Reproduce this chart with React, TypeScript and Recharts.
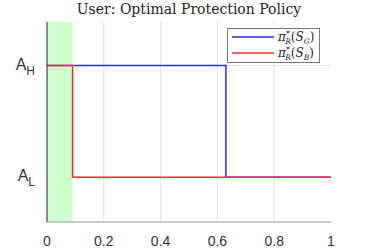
import { LineChart, Line, XAxis, YAxis, CartesianGrid, ReferenceArea } from 'recharts';

document.body.style.margin = '0';

// policy levels: 1 = A_L, 2 = A_H
const goodX = [0, 0.63, 1];
const goodLevel = [2, 1, 1];
const badX = [0, 0.09, 1];
const badLevel = [2, 1, 1];
const xTicks = [0, 0.2, 0.4, 0.6, 0.8, 1];
const yTicks = [1, 2];
const yLabels = ['L', 'H'];
const bandEnd = 0.09;

const goodData = goodX.map((x, i) => ({ x, v: goodLevel[i] }));
const badData = badX.map((x, i) => ({ x, v: badLevel[i] }));

const YTick = ({ x, y, payload }: any) => {
  const sub = yLabels[yTicks.indexOf(payload.value)];
  return (
    <text x={x - 4} y={y + 4} textAnchor="end" fill="#333" fontFamily="Liberation Sans, Arial, sans-serif" fontSize={16}>
      A<tspan dy={5} fontSize={12}>{sub}</tspan>
    </text>
  );
};

const PolicyLabel = ({ x, y, state }: { x: number; y: number; state: string }) => (
  <text x={x} y={y} fontFamily="DejaVu Serif, serif" fontSize={12} fill="#222">
    <tspan fontStyle="italic">π</tspan>
    <tspan dy={-5} fontSize={7.5}>*</tspan>
    <tspan dy={8} dx={-4.5} fontSize={7.5} fontStyle="italic">R</tspan>
    <tspan dy={-3}>(</tspan>
    <tspan fontStyle="italic">S</tspan>
    <tspan dy={3} fontSize={7.5} fontStyle="italic">{state}</tspan>
    <tspan dy={-3}>)</tspan>
  </text>
);

const Legend = () => (
  <g>
    <rect x={227.5} y={28.5} width={92} height={34} fill="#fff" stroke="#777" />
    <line x1={232} x2={274} y1={37} y2={37} stroke="#2a2aff" strokeWidth={1.5} />
    <line x1={232} x2={274} y1={53} y2={53} stroke="#ff2a2a" strokeWidth={1.5} />
    <PolicyLabel x={278} y={41} state="G" />
    <PolicyLabel x={278} y={57} state="B" />
  </g>
);

export default function App() {
  return (
    <div style={{ position: 'relative', width: 366, height: 249, background: '#fff' }}>
      <div
        style={{
          position: 'absolute',
          top: 1,
          left: 47,
          width: 284,
          textAlign: 'center',
          fontFamily: 'DejaVu Serif, serif',
          fontSize: 14,
          color: '#222',
        }}
      >
        User: Optimal Protection Policy
      </div>
      <LineChart width={366} height={249} margin={{ top: 22, right: 35, bottom: 0, left: 0 }}>
        <CartesianGrid stroke="#e2e2e2" verticalValues={xTicks.slice(1, -1)} horizontalValues={yTicks} />
        <ReferenceArea x1={0} x2={bandEnd} fill="#ccffcc" fillOpacity={1} stroke="none" ifOverflow="visible" />
        <XAxis
          dataKey="x"
          type="number"
          domain={[0, 1]}
          ticks={xTicks}
          height={27}
          allowDuplicatedCategory={false}
          axisLine={{ stroke: '#999' }}
          tickLine={false}
          tick={{ fill: '#333', fontSize: 14, fontFamily: 'Liberation Sans, Arial, sans-serif' }}
          tickFormatter={(v: number) => String(v)}
          tickMargin={8}
        />
        <YAxis
          type="number"
          domain={[0.6, 2.39]}
          ticks={yTicks}
          width={47}
          axisLine={{ stroke: '#222' }}
          tickLine={false}
          tick={<YTick />}
          allowDataOverflow
        />
        <Line data={goodData} dataKey="v" type="stepAfter" stroke="#2a2aff" strokeWidth={1.5} dot={false} isAnimationActive={false} />
        <Line data={badData} dataKey="v" type="stepAfter" stroke="#ff2a2a" strokeWidth={1.5} dot={false} isAnimationActive={false} />
        <Legend />
      </LineChart>
    </div>
  );
}
